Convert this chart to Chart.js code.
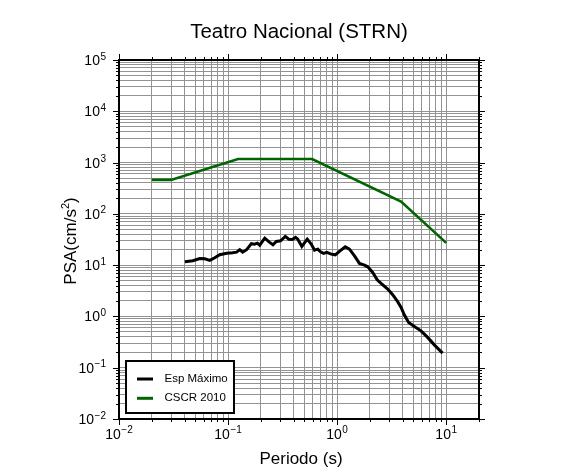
<!DOCTYPE html>
<html><head><meta charset="utf-8">
<script src="https://cdn.jsdelivr.net/npm/chart.js@4.4.1/dist/chart.umd.min.js"></script>
<style>html,body{margin:0;padding:0;background:#fff}#wrap{width:586px;height:475px}</style>
</head><body><div id="wrap"><canvas id="c" width="586" height="475"></canvas></div>
<script>
const titleText = 'Teatro Nacional (STRN)';
const xTitle = 'Periodo (s)';
const yTitleParts = ['PSA(cm/s', '2', ')'];
const seriesNames = ['Esp Máximo', 'CSCR 2010'];
const seriesColors = ['#000000', '#006400'];

const espPeriods = [0.0402,0.0475,0.0551,0.0612,0.068,0.0755,0.0839,0.0973,0.110,0.120,0.128,0.136,0.148,0.1637,0.1753,0.1858,0.195,0.217,0.2407,0.258,0.277,0.303,0.335,0.361,0.388,0.416,0.436,0.475,0.532,0.579,0.621,0.665,0.705,0.751,0.805,0.883,0.962,1.05,1.186,1.298,1.443,1.603,1.78,1.91,2.12,2.33,2.53,2.91,3.23,3.59,3.86,4.14,4.53,5.11,5.88,6.76,7.78,9.27];
const espPSA = [11.7,12.2,13.4,13.3,12.4,13.9,16.0,17.1,17.5,17.9,20.0,17.9,20.0,26.2,25.7,26.8,24.5,33.6,27.7,24.9,29.0,29.8,36.3,32.1,31.7,34.7,32.1,23.2,32.1,25.7,19.6,20.5,18.2,16.9,17.7,16.4,15.9,18.5,22.7,20.5,15.2,10.8,10.0,9.27,7.2,5.17,4.4,3.41,2.66,1.94,1.50,1.06,0.764,0.638,0.524,0.39,0.279,0.193];

const cscrPeriods = [0.02,0.03,0.1235,0.59,3.86,10];
const cscrPSA = [460,460,1175,1175,174,27.2];

const xTickExps = [-2,-1,0,1];
const yTickExps = [-2,-1,0,1,2,3,4,5];
const xRange = [0.01, 20];
const yRange = [0.01, 100000];

const FONT = "'Liberation Sans', Arial, Helvetica, sans-serif";

function genTicks(min, max) {
  const out = [];
  for (let e = Math.floor(Math.log10(min)); e <= Math.ceil(Math.log10(max)); e++) {
    for (let m = 1; m <= 9; m++) {
      const v = +(m * Math.pow(10, e)).toPrecision(6);
      if (v >= min * 0.999 && v <= max * 1.001) out.push(v);
    }
  }
  return out;
}
const xGridValues = genTicks(xRange[0], xRange[1]);
const yGridValues = genTicks(yRange[0], yRange[1]);

function isDecade(v) { const l = Math.log10(v); return Math.abs(l - Math.round(l)) < 1e-6; }

function drawPow(ctx, exp, x, baseline, align) {
  const base = '10';
  const sup = exp < 0 ? '\u2212' + Math.abs(exp) : String(exp);
  ctx.font = '14px ' + FONT;
  const wb = ctx.measureText(base).width;
  ctx.font = '10px ' + FONT;
  const ws = ctx.measureText(sup).width;
  const w = wb + ws + 0.5;
  let x0 = align === 'center' ? x - w / 2 : x - w;
  ctx.textAlign = 'left';
  ctx.textBaseline = 'alphabetic';
  ctx.fillStyle = '#000';
  ctx.font = '14px ' + FONT;
  ctx.fillText(base, x0, baseline);
  ctx.font = '10px ' + FONT;
  ctx.fillText(sup, x0 + wb + 0.5, baseline - 5.5);
}

const framePlugin = {
  id: 'frame',
  afterDraw(chart) {
    const ctx = chart.ctx;
    const a = chart.chartArea;
    const xs = chart.scales.x, ys = chart.scales.y;
    ctx.save();
    ctx.strokeStyle = '#000';
    ctx.lineWidth = 1;
    ctx.beginPath();
    xGridValues.forEach(v => {
      const px = Math.round(xs.getPixelForValue(v)) + 0.5;
      const len = isDecade(v) ? 6 : 3;
      ctx.moveTo(px, a.bottom); ctx.lineTo(px, a.bottom + len);
      ctx.moveTo(px, a.top); ctx.lineTo(px, a.top - len);
    });
    yGridValues.forEach(v => {
      const py = Math.round(ys.getPixelForValue(v)) + 0.5;
      const len = isDecade(v) ? 6 : 3;
      ctx.moveTo(a.left, py); ctx.lineTo(a.left - len, py);
      ctx.moveTo(a.right, py); ctx.lineTo(a.right + len, py);
    });
    ctx.stroke();
    ctx.lineWidth = 2;
    ctx.strokeRect(a.left, a.top, a.right - a.left, a.bottom - a.top);
    xTickExps.forEach(e => drawPow(ctx, e, xs.getPixelForValue(Math.pow(10, e)), 438.5, 'center'));
    yTickExps.forEach(e => drawPow(ctx, e, 106, ys.getPixelForValue(Math.pow(10, e)) + 5, 'right'));
    ctx.fillStyle = '#000';
    ctx.font = '17px ' + FONT;
    ctx.textAlign = 'center';
    ctx.textBaseline = 'middle';
    ctx.fillText(xTitle, (a.left + a.right) / 2 + 2, 459);
    ctx.save();
    ctx.translate(70, 241);
    ctx.rotate(-Math.PI / 2);
    ctx.textBaseline = 'alphabetic';
    ctx.textAlign = 'left';
    ctx.font = '17px ' + FONT;
    const w1 = ctx.measureText(yTitleParts[0]).width;
    const w3 = ctx.measureText(yTitleParts[2]).width;
    ctx.font = '11px ' + FONT;
    const w2 = ctx.measureText(yTitleParts[1]).width;
    let sx = -(w1 + w2 + w3) / 2;
    ctx.font = '17px ' + FONT;
    ctx.fillText(yTitleParts[0], sx, 6);
    ctx.font = '11px ' + FONT;
    ctx.fillText(yTitleParts[1], sx + w1, -0.8);
    ctx.font = '17px ' + FONT;
    ctx.fillText(yTitleParts[2], sx + w1 + w2, 6);
    ctx.restore();
    const bx = 126, by = 361, bw = 108, bh = 52;
    ctx.fillStyle = '#fff';
    ctx.fillRect(bx, by, bw, bh);
    ctx.lineWidth = 2;
    ctx.strokeStyle = '#000';
    ctx.strokeRect(bx, by, bw, bh);
    chart.data.datasets.forEach((ds, i) => {
      const ly = 379 + i * 19.3;
      ctx.strokeStyle = ds.borderColor;
      ctx.lineWidth = 3;
      ctx.beginPath();
      ctx.moveTo(137, ly); ctx.lineTo(153, ly);
      ctx.stroke();
      ctx.fillStyle = '#000';
      ctx.font = '11.5px ' + FONT;
      ctx.textAlign = 'left';
      ctx.textBaseline = 'middle';
      ctx.fillText(ds.label, 164.5, ly);
    });
    ctx.restore();
  }
};

new Chart(document.getElementById('c'), {
  type: 'line',
  data: {
    datasets: [
      {
        label: seriesNames[0],
        data: espPeriods.map((p, i) => ({ x: p, y: espPSA[i] })),
        borderColor: seriesColors[0],
        borderWidth: 3,
        pointRadius: 0,
        tension: 0,
        fill: false
      },
      {
        label: seriesNames[1],
        data: cscrPeriods.map((p, i) => ({ x: p, y: cscrPSA[i] })),
        borderColor: seriesColors[1],
        borderWidth: 2.6,
        pointRadius: 0,
        tension: 0,
        fill: false
      }
    ]
  },
  options: {
    responsive: false,
    animation: false,
    devicePixelRatio: 1,
    layout: { padding: { left: 119, right: 107, top: 0, bottom: 56 } },
    plugins: {
      legend: { display: false },
      tooltip: { enabled: false },
      title: {
        display: true,
        text: titleText,
        color: '#000',
        font: { family: FONT, size: 20.5, weight: 'normal', lineHeight: 1.2 },
        padding: { top: 19.7, bottom: 15.7 }
      }
    },
    scales: {
      x: {
        type: 'logarithmic',
        min: xRange[0], max: xRange[1],
        afterBuildTicks: s => { s.ticks = xGridValues.map(v => ({ value: v })); },
        ticks: { display: false },
        grid: { color: '#939393', lineWidth: 1, drawTicks: false },
        border: { display: false }
      },
      y: {
        type: 'logarithmic',
        min: yRange[0], max: yRange[1],
        afterBuildTicks: s => { s.ticks = yGridValues.map(v => ({ value: v })); },
        ticks: { display: false },
        grid: { color: '#939393', lineWidth: 1, drawTicks: false },
        border: { display: false }
      }
    }
  },
  plugins: [framePlugin]
});
</script>
</body></html>
